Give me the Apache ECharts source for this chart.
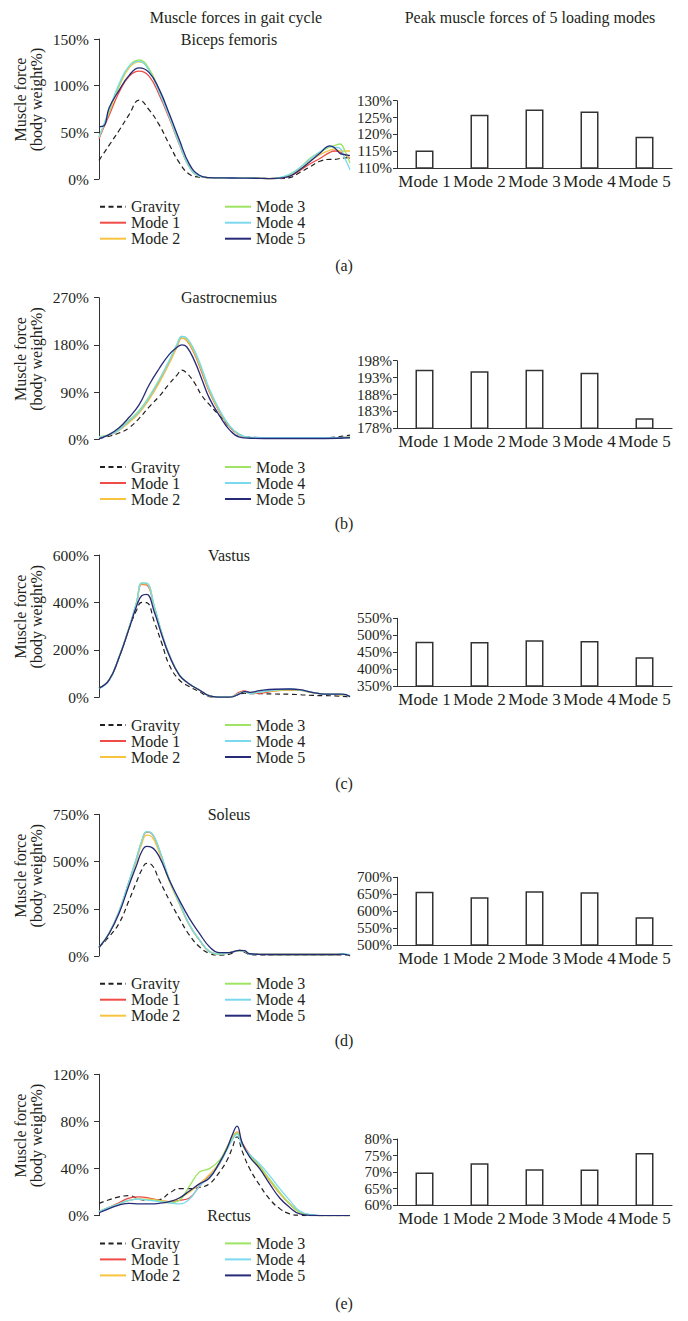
<!DOCTYPE html>
<html>
<head>
<meta charset="utf-8">
<script src="https://cdn.jsdelivr.net/npm/echarts@6/dist/echarts.min.js"></script>
<style>
html,body{margin:0;padding:0;background:#fff;}
#chart{width:688px;height:1321px;}
</style>
</head>
<body>
<div id="chart"></div>
<script>
// ---------- DATA ----------
const seriesNames = ['Gravity', 'Mode 1', 'Mode 2', 'Mode 3', 'Mode 4', 'Mode 5'];
const barCategories = ['Mode 1', 'Mode 2', 'Mode 3', 'Mode 4', 'Mode 5'];
const muscleNames = ['Biceps femoris', 'Gastrocnemius', 'Vastus', 'Soleus', 'Rectus'];
const panelLabels = ['(a)', '(b)', '(c)', '(d)', '(e)'];

// (a) Biceps femoris - gait cycle %
const xsA = [0,2,4,8,12,16,20,24,28,32,36,40,44,50,56,62,68,72,76,80,84,88,92,94,96,98,100];
const gravityA = [20,28,36,52,69,84.5,74,58,37,17.5,5,2,1.5,1.5,1,0.8,0.5,0.5,1.5,7,13,19,21,21,22,22.5,23];
const mode1A = [43,56,68,93,110,115.5,110,90,65,37,13,3,1.5,1.2,1,0.8,0.5,1,3,9,16,22,28.5,30,29,26,22];
const mode2A = [45,58,71,99,119,125.5,117,94,67,38,13,3,1.5,1.2,1,0.8,0.5,1,4,10,19,26,31,32,30,30,30];
const mode3A = [45,58,72,100,121,127.5,118,95,68,38,13,3,1.5,1.2,1,0.8,0.5,1.5,5,12,22,29,34,36,37.5,30,17];
const mode4A = [45,59,74,102,121,126,116,93,67,38,13,3,1.5,1.2,1,0.8,0.5,1.5,5,12,21,29,35,34,33,22,10];
const mode5A = [56,57,76,95,111,119,114,96,70,42,16,4,1.5,1.2,1,0.8,0.5,1,3,10,18.5,27.5,35.5,33,27.5,26,25];

// (b) Gastrocnemius
const xsB = [0,4,8,12,16,20,24,28,31,33,35,38,41,44,48,52,56,60,70,80,90,100];
const gravityB = [2,6,12,22,40,62,82,106,122,132,126,108,83,66,45,24,9,4,3,3,3,8];
const mode1B = [4,8,18,34,52,78,110,146,176,193,188,163,127,90,52,24,8,3,2,2,2,4];
const mode2B = [4,8,17,32,50,76,108,145,175,193,189,165,130,92,53,25,8,3,2,2,2,4];
const mode3B = [5,9,20,37,55,82,114,150,180,196,192,168,132,94,55,25,9,3,2,2,2,4];
const mode4B = [4,8,18,35,53,80,113,150,180,196,193,170,135,96,56,26,9,4,3,3,3,4];
const mode5B = [1,9,22,42,66,104,135,162,175,180,176,150,114,78,45,18,4,2,1.5,1.5,1.5,3];

// (c) Vastus
const xsC = [0,4,8,12,15,17,19,22,25,28,32,36,40,44,48,52,56,58,60,64,70,76,80,85,90,94,97,100];
const gravityC = [38,72,168,290,368,400,399,319,228,136,73,45,24,3,1,0.5,14,17,15,15,14,13,11,8,7,6,4,3];
const mode1C = [38,72,170,292,398,476,474,380,268,178,94,56,31,6,1,0.5,22,27,20,17,27,30,29,20,13,12,11,3];
const mode2C = [38,72,170,293,400,478,477,382,270,178,94,56,31,6,1,0.5,17,24,17,22,27,31,30,20,13,12,11,3];
const mode3C = [38,72,171,294,402,482,481,384,271,179,95,56,31,6,1,0.5,17,24,17,22,30,32,30,20,13,12,11,3];
const mode4C = [36,70,170,294,402,481,480,384,272,180,95,57,31,6,1,0.5,17,24,17,22,30,35,31,21,13,13,12,3];
const mode5C = [38,72,168,290,385,428,434,361,263,176,94,56,31,6,1,0.5,14,24,21,28,34,35,32,21,13,13,13,3];

// (d) Soleus
const xsD = [0,4,8,12,15,17,19,21,24,28,32,36,40,44,48,52,56,58,60,64,70,76,80,85,90,94,97,100];
const gravityD = [45,102,173,296,394,455,490,482,402,296,199,111,49,14,5,10,30,20,8,6,6,6,6,6,6,6,6,2];
const mode1D = [45,120,235,394,517,605,656,648,561,402,279,164,85,23,10,18,28,26,10,9,8,8,8,8,8,8,10,2];
const mode2D = [45,118,232,390,508,592,640,632,548,395,276,163,85,23,10,18,28,26,10,9,8,8,8,8,8,8,10,2];
const mode3D = [45,120,236,396,520,608,658,650,563,404,280,165,85,23,10,18,28,26,10,9,8,8,8,8,8,8,10,2];
const mode4D = [45,121,237,397,520,608,658,650,565,406,282,166,86,24,10,18,28,26,10,9,8,8,8,8,8,8,12,6];
const mode5D = [45,118,226,376,482,552,580,575,526,402,296,199,120,49,18,18,30,28,12,9,8,8,8,8,8,8,10,2];

// (e) Rectus
const xsE = [0,4,8,12,16,20,24,28,32,36,40,44,48,51,53,55,57,60,64,68,72,76,80,85,90,100];
const gravityE = [10.5,13.5,16,17,14,13,13.5,19,23,23,24,27,37,47,57,67,55,40,26,14,6,1.5,0.3,0,0,0];
const mode1E = [3.4,7,11,15,16,15,13,12,13,15,25,34,44,58,66,71,62,52,42,30,19,10,3,0.5,0,0];
const mode2E = [3.4,7,10,13,14,14,13,12,15,20,27,35,45,58,66,71,61,51,41,30,19,10,3,0.5,0,0];
const mode3E = [3.4,7,10,13,14,13.5,12.5,11,13,25,37,40,47,58,65,70,60,51,42,31,20,10,3,0.5,0,0];
const mode4E = [3.4,7,10,13,14,13,12,11,10,14,25,33,44,56,64,69,60,52,44,34,23,13,4,0.8,0,0];
const mode5E = [2.5,6,9,10.5,10,10,10.5,12,15,21,27,32,45,57,68,76,62,50,40,27,15,7,1.5,0.2,0,0];

// Peak muscle forces (% body weight)
const peakA = [115.2, 125.8, 127.4, 126.8, 119.3];
const peakB = [195.3, 194.9, 195.3, 194.4, 181.0];
const peakC = [481, 480, 485, 483, 435];
const peakD = [657, 641, 659, 656, 582];
const peakE = [69.9, 72.7, 70.9, 70.8, 75.8];

// Axis ticks
const lineTicksA = [0, 50, 100, 150];
const lineTicksB = [0, 90, 180, 270];
const lineTicksC = [0, 200, 400, 600];
const lineTicksD = [0, 250, 500, 750];
const lineTicksE = [0, 40, 80, 120];
const barTicksA = [110, 115, 120, 125, 130];
const barTicksB = [178, 183, 188, 193, 198];
const barTicksC = [350, 400, 450, 500, 550];
const barTicksD = [500, 550, 600, 650, 700];
const barTicksE = [60, 65, 70, 75, 80];

// ---------- LAYOUT / STYLE ----------
const FONT = '"Liberation Serif", "Times New Roman", serif';
const TXT = '#231f20';
const colors = ['#231f20', '#ef4b47', '#f8c440', '#9de462', '#7ad9ef', '#262b78'];

const panels = [
  {xs: xsA, ys: [gravityA, mode1A, mode2A, mode3A, mode4A, mode5A], lt: lineTicksA, peaks: peakA, bt: barTicksA, lineTop: 39, lineBot: 179, barTop: 100.7, barBot: 168, label: 265},
  {xs: xsB, ys: [gravityB, mode1B, mode2B, mode3B, mode4B, mode5B], lt: lineTicksB, peaks: peakB, bt: barTicksB, lineTop: 297.7, lineBot: 439.3, barTop: 360.7, barBot: 428.3, label: 523},
  {xs: xsC, ys: [gravityC, mode1C, mode2C, mode3C, mode4C, mode5C], lt: lineTicksC, peaks: peakC, bt: barTicksC, lineTop: 555, lineBot: 697.3, barTop: 618.3, barBot: 686, label: 783},
  {xs: xsD, ys: [gravityD, mode1D, mode2D, mode3D, mode4D, mode5D], lt: lineTicksD, peaks: peakD, bt: barTicksD, lineTop: 814.3, lineBot: 956, barTop: 877.3, barBot: 945, label: 1040},
  {xs: xsE, ys: [gravityE, mode1E, mode2E, mode3E, mode4E, mode5E], lt: lineTicksE, peaks: peakE, bt: barTicksE, lineTop: 1074.3, lineBot: 1215.7, barTop: 1139, barBot: 1205.3, label: 1303}
];
const titleY = [39, 297.5, 555, 814, 1215.5];

const W = 688, H = 1321;
const grid = [], xAxis = [], yAxis = [], series = [], legend = [], graphic = [];

graphic.push({type: 'text', x: 236, y: 17, style: {text: 'Muscle forces in gait cycle', font: '16px ' + FONT, fill: TXT, textAlign: 'center', textVerticalAlign: 'middle'}});
graphic.push({type: 'text', x: 530, y: 17, style: {text: 'Peak muscle forces of 5 loading modes', font: '16px ' + FONT, fill: TXT, textAlign: 'center', textVerticalAlign: 'middle'}});

panels.forEach((p, i) => {
  // line chart grid
  const gLine = grid.length;
  grid.push({left: 99, width: 251, top: p.lineTop, height: p.lineBot - p.lineTop, containLabel: false});
  xAxis.push({gridIndex: gLine, type: 'value', min: 0, max: 100, show: false});
  const lt = p.lt;
  yAxis.push({
    gridIndex: gLine, type: 'value', min: lt[0], max: lt[lt.length - 1], interval: lt[1] - lt[0],
    axisLine: {show: true, lineStyle: {color: '#333', width: 1}},
    axisTick: {show: true, length: 5, lineStyle: {color: '#333'}},
    axisLabel: {fontFamily: FONT, fontSize: 15.5, color: TXT, margin: 10, formatter: v => v + '%'},
    splitLine: {show: false}
  });
  p.ys.forEach((ys, k) => {
    series.push({
      name: seriesNames[k], type: 'line', xAxisIndex: gLine, yAxisIndex: gLine,
      data: p.xs.map((x, j) => [x, ys[j]]),
      symbol: 'none', smooth: 0.45,
      lineStyle: {color: colors[k], width: k === 0 ? 1.2 : 1.3, type: k === 0 ? [5, 3.5] : 'solid'},
      itemStyle: {color: colors[k]},
      z: k === 0 ? 3 : 2 + k
    });
  });

  // bar chart grid
  const gBar = grid.length;
  grid.push({left: 397, width: 275, top: p.barTop, height: p.barBot - p.barTop, containLabel: false});
  xAxis.push({
    gridIndex: gBar, type: 'category', data: barCategories,
    axisLine: {show: true, lineStyle: {color: '#333', width: 1.2}},
    axisTick: {show: false},
    axisLabel: {fontFamily: FONT, fontSize: 17, color: TXT, margin: 5, interval: 0}
  });
  const bt = p.bt;
  yAxis.push({
    gridIndex: gBar, type: 'value', min: bt[0], max: bt[bt.length - 1],
    axisLine: {show: true, lineStyle: {color: '#333', width: 1}},
    axisTick: {show: true, length: 4, lineStyle: {color: '#333'}, customValues: bt},
    axisLabel: {fontFamily: FONT, fontSize: 15, color: TXT, margin: 5, customValues: bt, formatter: v => v + '%'},
    splitLine: {show: false}
  });
  series.push({
    name: 'peak' + i, type: 'bar', xAxisIndex: gBar, yAxisIndex: gBar,
    data: p.peaks, barWidth: 18,
    itemStyle: {color: '#fff', borderColor: '#333', borderWidth: 1.5},
    silent: true
  });

  // legends (two columns)
  const legTop = p.lineBot + 19.7;
  const legCommon = {
    orient: 'vertical', padding: 0, itemWidth: 26, itemHeight: 14, itemGap: 0,
    itemStyle: {opacity: 0},
    textStyle: {fontFamily: FONT, fontSize: 16, color: TXT, lineHeight: 16}, selectedMode: false
  };
  legend.push(Object.assign({}, legCommon, {left: 99, top: legTop, data: seriesNames.slice(0, 3)}));
  legend.push(Object.assign({}, legCommon, {left: 224, top: legTop, data: seriesNames.slice(3)}));

  // muscle name & panel label
  graphic.push({type: 'text', x: 229, y: titleY[i], style: {text: muscleNames[i], font: '16px ' + FONT, fill: TXT, textAlign: 'center', textVerticalAlign: 'middle'}, z: 100});
  graphic.push({type: 'text', x: 344, y: p.label, style: {text: panelLabels[i], font: '16px ' + FONT, fill: TXT, textAlign: 'center', textVerticalAlign: 'middle'}});
  // y-axis name
  graphic.push({
    type: 'text', x: 28, y: (p.lineTop + p.lineBot) / 2 - 9.5, rotation: Math.PI / 2,
    style: {text: 'Muscle force\n(body weight%)', font: '16px ' + FONT, fill: TXT, textAlign: 'center', textVerticalAlign: 'middle', lineHeight: 16}
  });
});

const chart = echarts.init(document.getElementById('chart'), null, {renderer: 'svg', width: W, height: H});
chart.setOption({
  animation: false,
  backgroundColor: '#fff',
  grid, xAxis, yAxis, series, legend, graphic
});
</script>
</body>
</html>
